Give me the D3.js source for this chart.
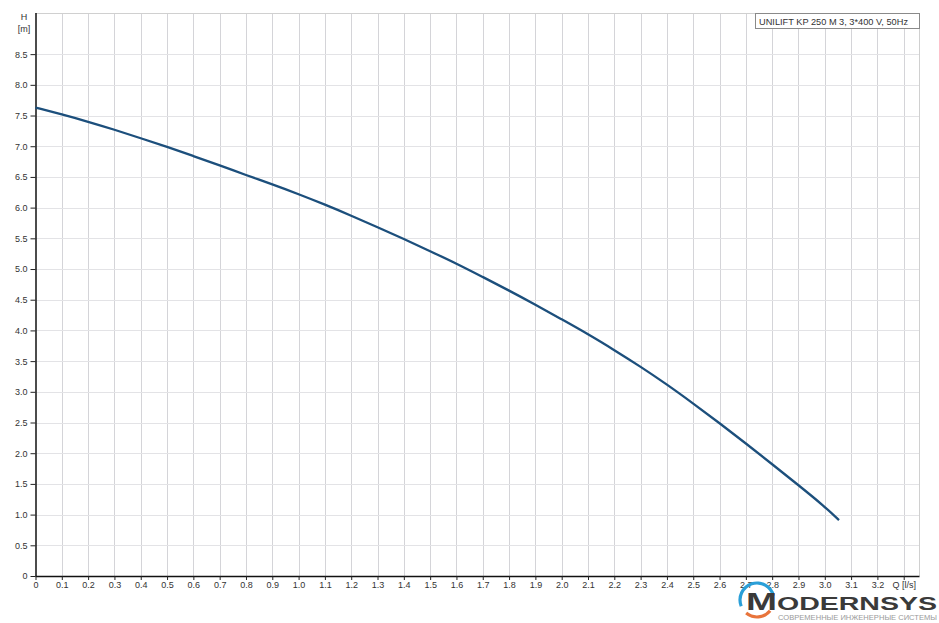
<!DOCTYPE html>
<html><head><meta charset="utf-8">
<script src="https://cdn.jsdelivr.net/npm/d3@7"></script>
<style>
html,body{margin:0;padding:0;background:#fff;}
svg{display:block;font-family:"Liberation Sans",Arial,sans-serif;}
</style></head>
<body><svg id="c" width="939" height="623"></svg>
<script>
// ---- data ----
const flowQ = [0,0.1,0.2,0.3,0.4,0.5,0.6,0.7,0.8,0.9,1.0,1.1,1.2,1.3,1.4,1.5,1.6,1.7,1.8,1.9,2.0,2.1,2.2,2.3,2.4,2.5,2.6,2.7,2.8,2.9,3.0,3.054];
const headH = [7.63,7.52,7.40,7.27,7.13,6.99,6.84,6.69,6.53,6.38,6.22,6.05,5.87,5.68,5.49,5.29,5.09,4.87,4.65,4.42,4.18,3.94,3.68,3.41,3.12,2.81,2.49,2.16,1.82,1.48,1.13,0.91];
const xTicks = [0,0.1,0.2,0.3,0.4,0.5,0.6,0.7,0.8,0.9,1.0,1.1,1.2,1.3,1.4,1.5,1.6,1.7,1.8,1.9,2.0,2.1,2.2,2.3,2.4,2.5,2.6,2.7,2.8,2.9,3.0,3.1,3.2,3.3];
const xTickLabels = ["0","0.1","0.2","0.3","0.4","0.5","0.6","0.7","0.8","0.9","1.0","1.1","1.2","1.3","1.4","1.5","1.6","1.7","1.8","1.9","2.0","2.1","2.2","2.3","2.4","2.5","2.6","2.7","2.8","2.9","3.0","3.1","3.2","Q [l/s]"];
const yTicks = [0,0.5,1,1.5,2,2.5,3,3.5,4,4.5,5,5.5,6,6.5,7,7.5,8,8.5];
const yTickLabels = ["0","0.5","1.0","1.5","2.0","2.5","3.0","3.5","4.0","4.5","5.0","5.5","6.0","6.5","7.0","7.5","8.0","8.5"];
const legendLabel = "UNILIFT KP 250 M 3, 3*400 V, 50Hz";
const yAxisTitle = ["H","[m]"];
const logoMain = "ODERNSYS";
const logoSub = "СОВРЕМЕННЫЕ ИНЖЕНЕРНЫЕ СИСТЕМЫ";

// ---- layout ----
const L = 35.5, T = 13, R = 919.5, B = 576;
const svg = d3.select("#c");
const x = d3.scaleLinear().domain([0, 3.36]).range([L, R]);
const y = d3.scaleLinear().domain([0, 9.17]).range([B, T]);

// grid
const g = svg.append("g");
g.selectAll("line.v").data(xTicks.slice(1)).join("line")
  .attr("x1", d => Math.round(x(d)) + 0.5).attr("x2", d => Math.round(x(d)) + 0.5)
  .attr("y1", T).attr("y2", B).attr("stroke", "#d4d4d8").attr("stroke-width", 1);
g.selectAll("line.h").data(yTicks.slice(1)).join("line")
  .attr("x1", L).attr("x2", R)
  .attr("y1", d => Math.round(y(d)) + 0.5).attr("y2", d => Math.round(y(d)) + 0.5)
  .attr("stroke", "#e3e3e6").attr("stroke-width", 1);
// frame top/right
g.append("line").attr("x1", L).attr("x2", R).attr("y1", T + 0.5).attr("y2", T + 0.5).attr("stroke", "#d0d0d0");
g.append("line").attr("x1", R).attr("x2", R).attr("y1", T).attr("y2", B).attr("stroke", "#d0d0d0");

// axes
const xAxis = d3.axisBottom(x).tickValues(xTicks).tickSize(4).tickPadding(2)
  .tickFormat((d, i) => xTickLabels[i]);
const gx = svg.append("g").attr("transform", `translate(0,${B})`).call(xAxis);
gx.select(".domain").attr("d", `M${L},0.5H${R}`).attr("stroke", "#111").attr("stroke-width", 1.5);
gx.selectAll(".tick line").attr("stroke", "#222");
gx.selectAll(".tick text").attr("font-size", 9).attr("fill", "#333").attr("font-family", "Liberation Sans, Arial, sans-serif");

const yAxis = d3.axisLeft(y).tickValues(yTicks).tickSize(5).tickPadding(3)
  .tickFormat((d, i) => yTickLabels[i]);
const gy = svg.append("g").attr("transform", `translate(${L},0)`).call(yAxis);
gy.select(".domain").attr("d", `M0.5,${T}V${B}`).attr("stroke", "#111").attr("stroke-width", 1.5);
gy.selectAll(".tick line").attr("stroke", "#222");
gy.selectAll(".tick text").attr("font-size", 9).attr("fill", "#333").attr("font-family", "Liberation Sans, Arial, sans-serif");

// y title
svg.append("text").attr("x", 24).attr("y", 20).attr("text-anchor", "middle")
  .attr("font-size", 9).attr("fill", "#333").text(yAxisTitle[0]);
svg.append("text").attr("x", 24).attr("y", 32).attr("text-anchor", "middle")
  .attr("font-size", 9).attr("fill", "#333").text(yAxisTitle[1]);

// curve
const pts = flowQ.map((q, i) => [q, headH[i]]);
svg.append("path").datum(pts)
  .attr("d", d3.line().x(d => x(d[0])).y(d => y(d[1])).curve(d3.curveBasis))
  .attr("fill", "none").attr("stroke", "#1c4f7c").attr("stroke-width", 2.3)
  .attr("stroke-linecap", "butt");

// legend box
svg.append("rect").attr("x", 755.5).attr("y", 13.5).attr("width", 164).attr("height", 15)
  .attr("fill", "#fff").attr("stroke", "#8a8a8a").attr("stroke-width", 1);
svg.append("text").attr("x", 759).attr("y", 24.5).attr("font-size", 9).attr("fill", "#333")
  .attr("textLength", 149).attr("lengthAdjust", "spacingAndGlyphs").text(legendLabel);

// watermark logo
const lg = svg.append("g");
const cx = 757, cy = 600, rr = 17;
const arc = d3.arc().innerRadius(rr - 1.6).outerRadius(rr + 1.6);
lg.append("path").attr("transform", `translate(${cx},${cy})`)
  .attr("d", arc({startAngle: -Math.PI * 0.62, endAngle: Math.PI * 0.42})).attr("fill", "#2a9fd8");
lg.append("path").attr("transform", `translate(${cx},${cy})`)
  .attr("d", arc({startAngle: Math.PI * 0.72, endAngle: Math.PI * 1.22})).attr("fill", "#e8743b");
lg.append("text").attr("x", 746).attr("y", 609.5).attr("font-size", 24).attr("font-weight", "bold")
  .attr("fill", "#3a3a3a").attr("textLength", 31).attr("lengthAdjust", "spacingAndGlyphs").text("M");
lg.append("text").attr("x", 777).attr("y", 609.5).attr("font-size", 19).attr("font-weight", "bold")
  .attr("fill", "#3a3a3a").attr("textLength", 160).attr("lengthAdjust", "spacingAndGlyphs").text(logoMain);
lg.append("text").attr("x", 778).attr("y", 619.5).attr("font-size", 8)
  .attr("fill", "#9a9a9a").attr("textLength", 159).attr("lengthAdjust", "spacingAndGlyphs").text(logoSub);
</script></body></html>
